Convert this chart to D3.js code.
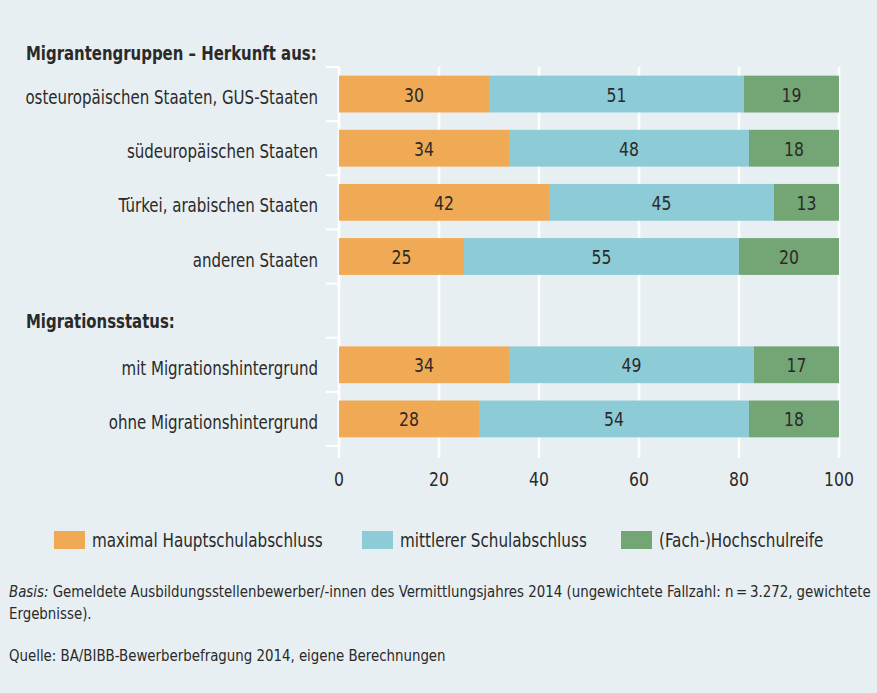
<!DOCTYPE html>
<html>
<head>
<meta charset="utf-8">
<script src="https://cdn.jsdelivr.net/npm/d3@7"></script>
<style>
  body { margin: 0; background: #e8eff2; }
  svg { display: block; font-family: "DejaVu Sans Condensed", "Liberation Sans Narrow", sans-serif; }
</style>
</head>
<body>
<svg id="chart" width="877" height="693"></svg>
<script>
const categories = [
  'osteuropäischen Staaten, GUS-Staaten',
  'südeuropäischen Staaten',
  'Türkei, arabischen Staaten',
  'anderen Staaten',
  'Migrationsstatus:',
  'mit Migrationshintergrund',
  'ohne Migrationshintergrund'
];
const seriesNames = ['maximal Hauptschulabschluss', 'mittlerer Schulabschluss', '(Fach-)Hochschulreife'];
const hauptschule = [30, 34, 42, 25, null, 34, 28];
const mittlerer = [51, 48, 45, 55, null, 49, 54];
const hochschule = [19, 18, 13, 20, null, 17, 18];
const xTicks = [0, 20, 40, 60, 80, 100];

const colors = ['#f0aa55', '#8dcbd6', '#74a574'];
const textColor = '#2a2a2a';

const svg = d3.select('#chart');
const width = 877, height = 693;

svg.append('rect').attr('width', width).attr('height', height).attr('fill', '#e8eff2');

const x = d3.scaleLinear().domain([0, 100]).range([339, 839]);
const y = d3.scaleBand().domain(categories).range([67, 446]).paddingInner(0.32).paddingOuter(0.16);
const step = y.step();

// the original font is a condensed face, so squeeze the text horizontally
function put(sel, px, py, k = 0.87) {
  return sel.attr('transform', `translate(${px},${py}) scale(${k},1)`);
}

// gridlines
svg.append('g')
  .selectAll('line')
  .data(xTicks)
  .join('line')
  .attr('x1', d => x(d)).attr('x2', d => x(d))
  .attr('y1', 67).attr('y2', 458)
  .attr('stroke', '#fff')
  .attr('stroke-width', 2.5);

// y ticks at band boundaries
const bounds = d3.range(categories.length + 1).map(i => 67 + i * step);
svg.append('g')
  .selectAll('line')
  .data(bounds)
  .join('line')
  .attr('x1', 326).attr('x2', 339)
  .attr('y1', d => d).attr('y2', d => d)
  .attr('stroke', '#fff')
  .attr('stroke-width', 2);

// stacked bars
const rows = categories.map((c, i) => ({ cat: c, values: [hauptschule[i], mittlerer[i], hochschule[i]] }))
  .filter(r => r.values[0] != null);

rows.forEach(r => {
  let acc = 0;
  const segs = r.values.map((v, k) => {
    const s = { x0: acc, x1: acc + v, v, k };
    acc += v;
    return s;
  });
  const g = svg.append('g');
  g.selectAll('rect')
    .data(segs)
    .join('rect')
    .attr('x', d => x(d.x0))
    .attr('y', y(r.cat))
    .attr('width', d => x(d.x1) - x(d.x0))
    .attr('height', y.bandwidth())
    .attr('fill', d => colors[d.k]);
  g.selectAll('text')
    .data(segs)
    .join('text')
    .each(function(d) {
      put(d3.select(this), x((d.x0 + d.x1) / 2), y(r.cat) + y.bandwidth() / 2 + 7.5);
    })
    .attr('text-anchor', 'middle')
    .attr('font-size', 20)
    .attr('fill', textColor)
    .text(d => d.v);
});

// category labels
svg.append('g')
  .selectAll('text')
  .data(rows)
  .join('text')
  .each(function(d) {
    put(d3.select(this), 318, y(d.cat) + y.bandwidth() / 2 + 10, 0.835);
  })
  .attr('text-anchor', 'end')
  .attr('font-size', 20)
  .attr('fill', textColor)
  .text(d => d.cat);

// group headings
put(svg.append('text'), 26, 60, 0.83)
  .attr('font-size', 20).attr('font-weight', 'bold')
  .attr('fill', textColor)
  .text('Migrantengruppen – Herkunft aus:');
put(svg.append('text'), 26, y('Migrationsstatus:') + y.bandwidth() / 2 + 17, 0.83)
  .attr('font-size', 20).attr('font-weight', 'bold')
  .attr('fill', textColor)
  .text('Migrationsstatus:');

// x axis labels
svg.append('g')
  .selectAll('text')
  .data(xTicks)
  .join('text')
  .each(function(d) { put(d3.select(this), x(d), 486); })
  .attr('text-anchor', 'middle')
  .attr('font-size', 20)
  .attr('fill', textColor)
  .text(d => d);

// legend
const legendX = [54, 362, 621];
const legend = svg.append('g')
  .selectAll('g')
  .data(seriesNames)
  .join('g')
  .attr('transform', (d, i) => `translate(${legendX[i]},531)`);
legend.append('rect')
  .attr('width', 31).attr('height', 18)
  .attr('fill', (d, i) => colors[i]);
legend.append('text')
  .attr('transform', 'translate(38,16) scale(0.845,1)')
  .attr('font-size', 20)
  .attr('fill', textColor)
  .text(d => d);

// footnotes
const note = put(svg.append('text'), 9, 597, 0.9)
  .attr('font-size', 16.5)
  .attr('fill', textColor);
note.append('tspan').attr('font-style', 'italic').text('Basis:');
note.append('tspan').text(' Gemeldete Ausbildungsstellenbewerber/-innen des Vermittlungsjahres 2014 (ungewichtete Fallzahl: n\u2009=\u20093.272, gewichtete');
put(svg.append('text'), 9, 619, 0.9)
  .attr('font-size', 16.5)
  .attr('fill', textColor)
  .text('Ergebnisse).');
put(svg.append('text'), 9, 661, 0.9)
  .attr('font-size', 16.5)
  .attr('fill', textColor)
  .text('Quelle: BA/BIBB-Bewerberbefragung 2014, eigene Berechnungen');
</script>
</body>
</html>
